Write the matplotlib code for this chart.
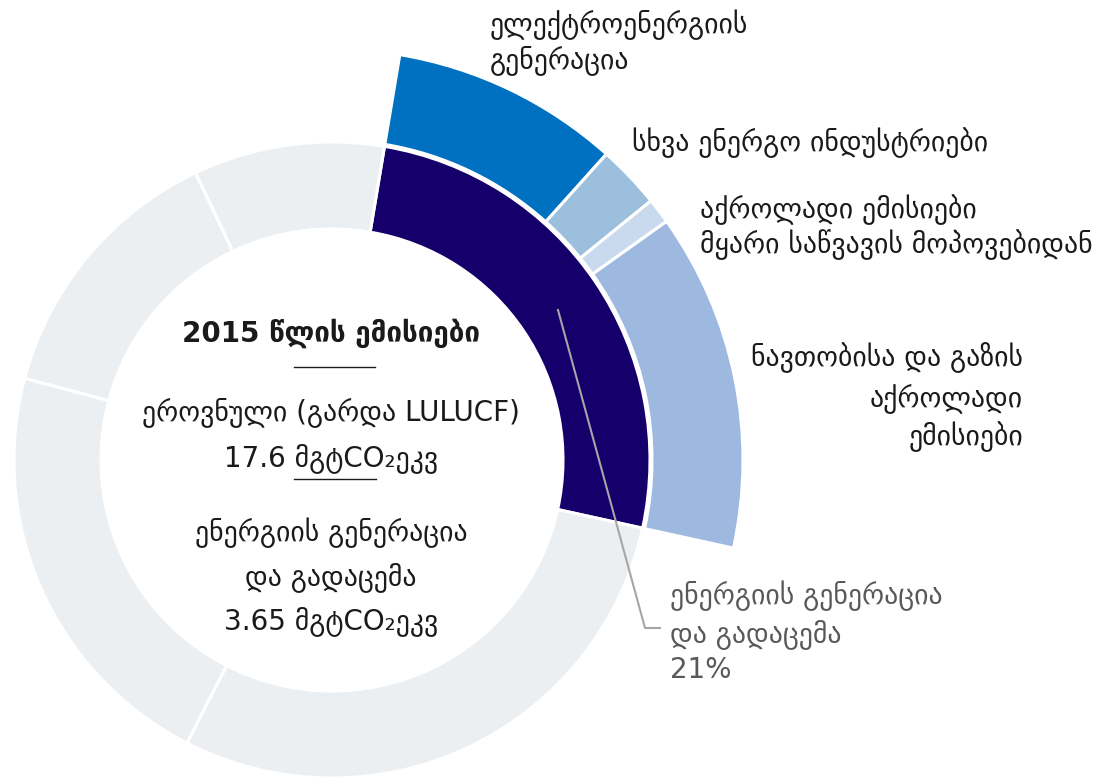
import matplotlib.pyplot as plt

plt.rcParams['font.family'] = ['DejaVu Sans']

# inner ring: share of the circle as drawn (energy generation first, then other sectors)
inner_labels = ['ენერგიის გენერაცია და გადაცემა', 'სხვა 1', 'სხვა 2', 'სხვა 3', 'სხვა 4']
inner_values = [25.8, 29.1, 21.6, 13.8, 9.7]
inner_colors = ['#15006b', '#eceff2', '#eceff2', '#eceff2', '#eceff2']

# outer ring: breakdown of energy generation
outer_labels = [['ელექტროენერგიის', 'გენერაცია'],
                ['სხვა ენერგო ინდუსტრიები'],
                ['აქროლადი ემისიები', 'მყარი საწვავის მოპოვებიდან'],
                ['ნავთობისა და გაზის', 'აქროლადი', 'ემისიები']]
outer_values = [9.0, 2.5, 1.0, 13.3]
outer_colors = ['#0070c0', '#9bbfdc', '#c9d9ee', '#9eb9e0']

centre_lines = ['2015 წლის ემისიები', 'ეროვნული (გარდა LULUCF)', '17.6 მგტCO₂ეკვ',
                'ენერგიის გენერაცია', 'და გადაცემა', '3.65 მგტCO₂ეკვ']
share_label = ['ენერგიის გენერაცია', 'და გადაცემა', '21%']

W, H = 1093, 780
fig = plt.figure(figsize=(W / 100, H / 100), dpi=100)
ax = fig.add_axes([0, 0, 1, 1])

cx, cy = 332, H - 460
start = 80.5

ax.pie(inner_values, colors=inner_colors, center=(cx, cy), radius=318,
       startangle=start, counterclock=False,
       wedgeprops=dict(width=87, edgecolor='white', linewidth=2.2))

rest = sum(inner_values) - sum(outer_values)
wedges, _ = ax.pie(outer_values + [rest], colors=outer_colors + ['none'],
                   center=(cx, cy), radius=411,
                   startangle=start, counterclock=False,
                   wedgeprops=dict(width=91, edgecolor='white', linewidth=2.2))
wedges[-1].set_edgecolor('none')

ax.set_xlim(0, W)
ax.set_ylim(0, H)
ax.set_aspect('equal')
ax.axis('off')

fs = 20
dark = '#1a1a1a'


def lines(x, ys, texts, ha, **kw):
    for y, t in zip(ys, texts):
        ax.text(x, H - y, t, ha=ha, va='center', fontsize=fs, **kw)


# centre text
lines(331, [333], centre_lines[:1], 'center', fontweight='bold', color=dark)
ax.plot([294, 375], [H - 367, H - 367], color=dark, lw=1)
lines(331, [412, 458], centre_lines[1:3], 'center', color=dark)
ax.plot([294, 376], [H - 479, H - 479], color=dark, lw=1)
lines(331, [533, 577, 621], centre_lines[3:], 'center', color=dark)

# outer ring labels
lines(490, [25, 60], outer_labels[0], 'left', color=dark)
lines(632, [143], outer_labels[1], 'left', color=dark)
lines(700, [210, 245], outer_labels[2], 'left', color=dark)
lines(1023, [358, 398, 437], outer_labels[3], 'right', color=dark)

# leader line + label for energy generation share
ax.plot([558, 645, 660], [H - 310, H - 628, H - 628], color='#a6a6a6', lw=1.5)
lines(670, [596, 634, 670], share_label, 'left', color='#595959')

fig.savefig('out.png', dpi=100)
